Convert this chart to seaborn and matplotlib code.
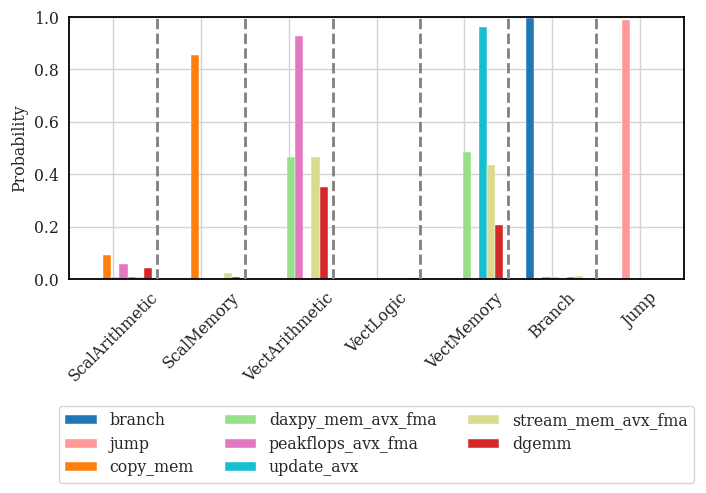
import numpy as np
import pandas as pd
import matplotlib
matplotlib.use("Agg")
import matplotlib.pyplot as plt
import seaborn as sns

categories = ["ScalArithmetic", "ScalMemory", "VectArithmetic", "VectLogic",
              "VectMemory", "Branch", "Jump"]
series = ["branch", "jump", "copy_mem", "daxpy_mem_avx_fma", "peakflops_avx_fma",
          "update_avx", "stream_mem_avx_fma", "dgemm"]

branch = [0.0, 0.0, 0.0, 0.0, 0.0, 0.995, 0.0]
jump = [0.0, 0.0, 0.0, 0.0, 0.0, 0.0, 0.99]
copy_mem = [0.090, 0.855, 0.0, 0.0, 0.0, 0.006, 0.0]
daxpy_mem_avx_fma = [0.007, 0.0, 0.466, 0.0, 0.483, 0.008, 0.0]
peakflops_avx_fma = [0.058, 0.0, 0.927, 0.0, 0.0, 0.0, 0.0]
update_avx = [0.007, 0.0, 0.0, 0.0, 0.961, 0.006, 0.0]
stream_mem_avx_fma = [0.009, 0.021, 0.466, 0.0, 0.434, 0.011, 0.0]
dgemm = [0.042, 0.006, 0.350, 0.005, 0.205, 0.0, 0.0]

colors = ["#1f77b4", "#ff9896", "#ff7f0e", "#98df8a", "#e377c2",
          "#17becf", "#dbdb8d", "#d62728"]

values = [branch, jump, copy_mem, daxpy_mem_avx_fma, peakflops_avx_fma,
          update_avx, stream_mem_avx_fma, dgemm]
rows = []
for s, vals in zip(series, values):
    for c, v in zip(categories, vals):
        rows.append({"category": c, "benchmark": s, "Probability": v})
df = pd.DataFrame(rows)

sns.set_theme(style="whitegrid")
plt.rcParams["font.family"] = ["DejaVu Serif"]
FS = 11.3
plt.rcParams["font.size"] = FS

fig = plt.figure(figsize=(7.06, 4.93), dpi=100)
ax = fig.add_axes([69 / 706, 1 - 279 / 493, 615 / 706, 262 / 493])

sns.barplot(data=df, x="category", y="Probability", hue="benchmark",
            hue_order=series, order=categories, palette=colors, saturation=1,
            width=0.74, edgecolor="white", linewidth=0.3, ax=ax, legend=True)

shift = -0.074
n = len(categories)
ax.set_xticks(np.arange(n) + shift)
ax.set_xticklabels(categories, rotation=45, ha="center", fontsize=FS)
ax.set_xlim(-0.5 + shift, n - 0.5 + shift)
for i in range(n - 1):
    ax.axvline(i + 0.5 + shift, color="grey", linestyle="--", linewidth=2, zorder=3)

ax.set_ylim(0, 1)
ax.set_yticks([0.0, 0.2, 0.4, 0.6, 0.8, 1.0])
ax.set_yticklabels(["0.0", "0.2", "0.4", "0.6", "0.8", "1.0"], fontsize=FS)
ax.set_xlabel("")
ax.set_ylabel("Probability", fontsize=FS, labelpad=4)
ax.grid(True, color="#d3d3d3", linewidth=1)
ax.set_axisbelow(True)
for sp in ax.spines.values():
    sp.set_color("black")
    sp.set_linewidth(1.3)
ax.tick_params(axis="both", length=0, pad=7.5, colors="#222222")

handles, labels = ax.get_legend_handles_labels()
ax.get_legend().remove()
fig.legend(handles, labels, ncol=3, loc="upper left",
           bbox_to_anchor=(59 / 706, 1 - 406 / 493), borderaxespad=0,
           fontsize=FS, handlelength=2.0, handleheight=0.5, labelspacing=0.42,
           frameon=True, edgecolor="#cccccc", columnspacing=2.0)

fig.savefig("out.png", dpi=100)
